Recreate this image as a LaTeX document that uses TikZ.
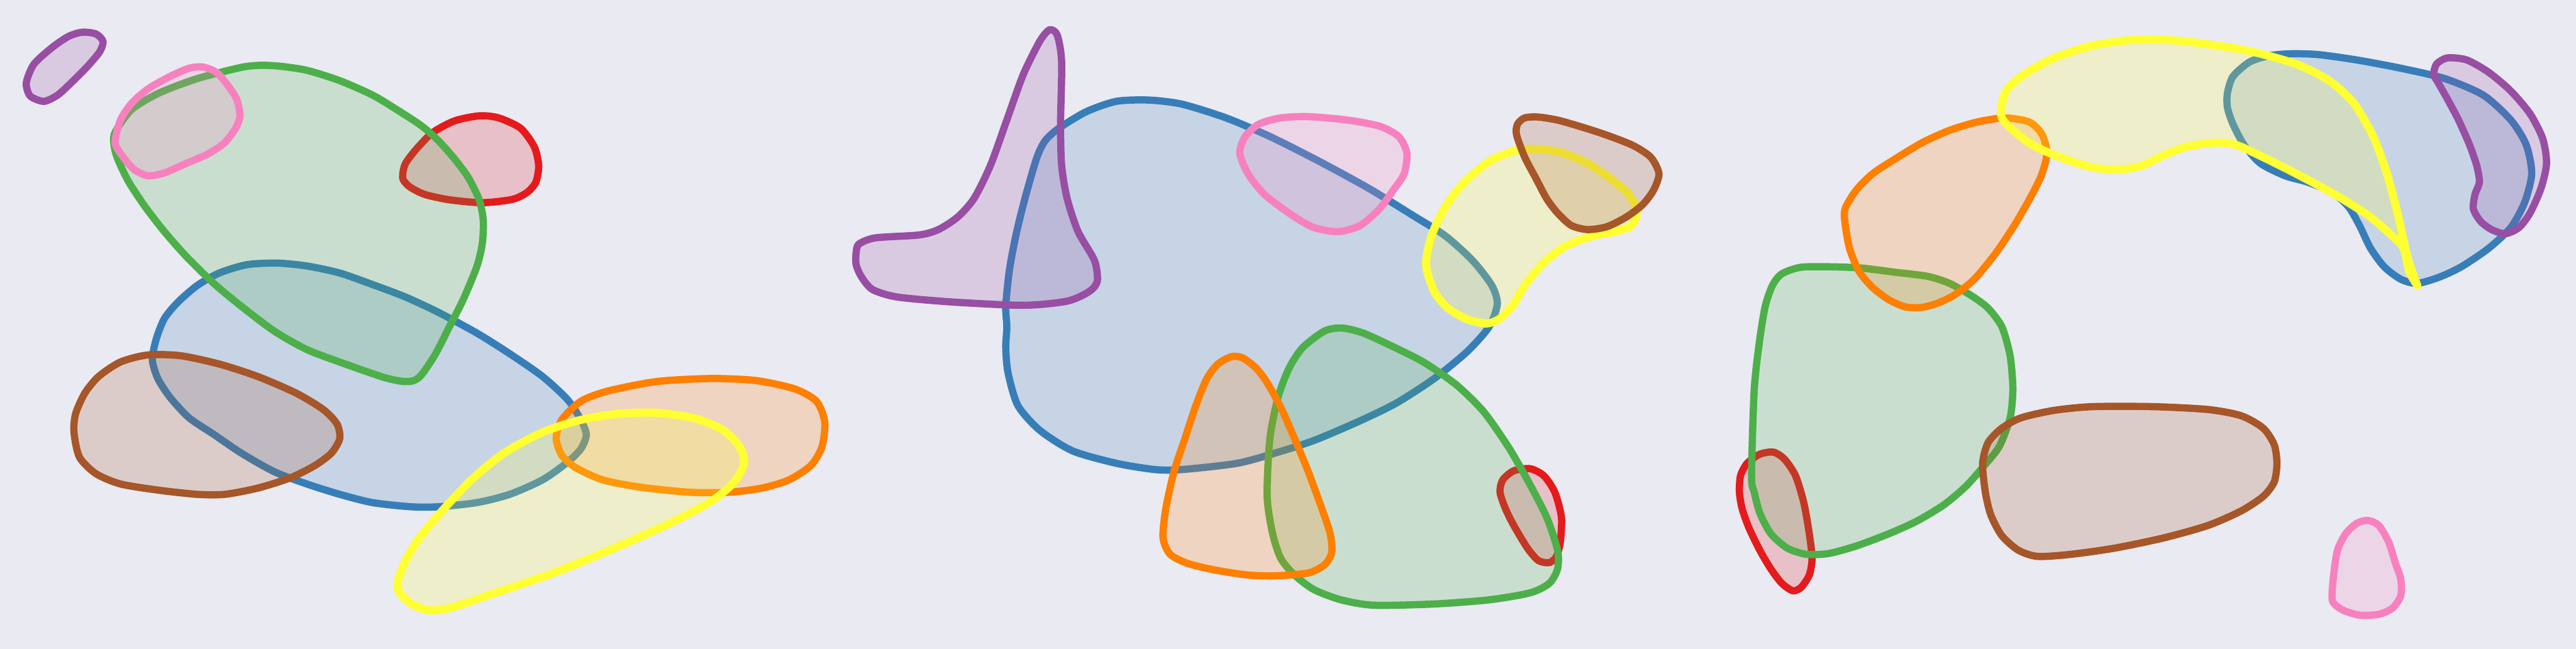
\documentclass[tikz,border=0pt]{standalone}
\definecolor{bg}{HTML}{EAEAF2}
\definecolor{sred}{HTML}{E41A1C}
\definecolor{sblue}{HTML}{377EB8}
\definecolor{sgreen}{HTML}{4DAF4A}
\definecolor{spurple}{HTML}{984EA3}
\definecolor{sorange}{HTML}{FF7F00}
\definecolor{syellow}{HTML}{FFFF33}
\definecolor{sbrown}{HTML}{A65628}
\definecolor{spink}{HTML}{F781BF}
\tikzset{blob/.style={draw=#1, fill=#1, fill opacity=0.2, draw opacity=1, line width=1.25pt, line join=round},
  yblob/.style={blob=syellow, line width=1.4pt}}
\begin{document}
\begin{tikzpicture}[x=0.01cm,y=-0.01cm]
\fill[bg] (0,0) rectangle (1568,395);
\useasboundingbox (0,0) rectangle (1568,395);
% ---------------- panel 1
\begin{scope}[xscale=0.33356, yscale=0.25183]
\draw[blob=sblue] plot[smooth cycle, tension=0.45] coordinates {(278,870) (285,820) (300,770) (325,730) (360,690) (400,660) (450,640) (505,636) (560,643) (620,660) (680,688) (740,718) (800,755) (870,805) (930,855) (990,910) (1035,965) (1058,1010) (1070,1050) (1060,1085) (1035,1118) (990,1160) (930,1195) (870,1215) (800,1225) (750,1225) (680,1215) (620,1195) (560,1170) (500,1140) (440,1095) (390,1050) (345,1010) (310,960) (288,915)};
\draw[blob=sred] plot[smooth cycle, tension=0.45] coordinates {(735,420) (740,395) (760,360) (790,320) (830,292) (875,280) (910,285) (950,310) (975,355) (983,400) (978,440) (962,465) (935,482) (880,490) (820,483) (775,470) (748,452) (736,435)};
\draw[blob=sgreen] plot[smooth cycle, tension=0.45] coordinates {(208,350) (210,320) (240,265) (290,225) (360,190) (440,163) (475,158) (510,160) (560,170) (620,195) (680,230) (730,270) (770,305) (800,340) (830,385) (855,430) (875,485) (882,535) (880,590) (870,645) (845,725) (820,790) (795,855) (770,905) (755,920) (735,922) (700,912) (630,880) (560,845) (500,800) (440,740) (390,685) (340,620) (300,560) (265,500) (235,440) (215,385)};
\draw[blob=spink] plot[smooth cycle, tension=0.45] coordinates {(210,345) (220,290) (240,250) (270,215) (310,185) (345,165) (370,162) (395,175) (415,205) (432,240) (438,280) (430,310) (410,345) (380,372) (340,395) (300,418) (270,425) (245,410) (225,380)};
\draw[blob=sbrown] plot[smooth cycle, tension=0.45] coordinates {(135,1045) (138,1000) (155,950) (180,910) (220,875) (270,858) (330,860) (400,880) (470,910) (540,950) (590,990) (615,1025) (620,1060) (605,1095) (575,1125) (530,1155) (470,1180) (410,1195) (360,1195) (290,1185) (220,1170) (175,1145) (145,1105)};
\draw[blob=sorange] plot[smooth cycle, tension=0.45] coordinates {(1015,1060) (1025,1015) (1060,970) (1110,945) (1200,922) (1300,915) (1380,920) (1450,940) (1490,970) (1505,1020) (1500,1080) (1480,1125) (1440,1160) (1390,1180) (1330,1190) (1260,1190) (1170,1178) (1100,1160) (1050,1130) (1025,1100)};
\draw[yblob] plot[smooth cycle, tension=0.45] coordinates {(725,1420) (735,1370) (760,1310) (800,1245) (860,1160) (920,1095) (990,1045) (1060,1015) (1130,1000) (1200,998) (1270,1012) (1320,1040) (1350,1080) (1358,1120) (1340,1165) (1300,1210) (1230,1260) (1130,1320) (1010,1385) (900,1435) (820,1470) (780,1475) (745,1455)};
\draw[blob=spurple] plot[smooth cycle, tension=0.45] coordinates {(48,200) (62,155) (95,115) (125,88) (150,78) (175,82) (188,100) (182,125) (160,160) (130,200) (105,230) (80,245) (55,232)};
\end{scope}
% ---------------- panel 2
\begin{scope}[shift={(512.8,0)}]
\begin{scope}[xscale=0.33356, yscale=0.25183]
\draw[blob=sred] plot[smooth cycle, tension=0.45] coordinates {(1200,1190) (1205,1160) (1225,1138) (1255,1133) (1280,1150) (1300,1190) (1312,1250) (1310,1310) (1303,1345) (1290,1360) (1270,1355) (1250,1325) (1225,1270) (1210,1230)};
\draw[blob=sblue] plot[smooth cycle, tension=0.45] coordinates {(300,790) (298,740) (305,650) (318,560) (335,470) (355,380) (370,340) (395,310) (445,270) (500,245) (560,242) (620,252) (700,285) (780,330) (870,390) (960,455) (1040,520) (1100,570) (1150,630) (1185,690) (1195,735) (1180,790) (1140,850) (1080,915) (1010,975) (940,1020) (860,1065) (790,1095) (720,1120) (620,1135) (570,1135) (500,1120) (420,1090) (360,1040) (320,980) (302,900) (298,840)};
\draw[blob=sgreen] plot[smooth cycle, tension=0.45] coordinates {(775,1200) (780,1060) (795,960) (815,890) (840,840) (880,800) (912,793) (950,805) (1000,835) (1060,875) (1120,930) (1170,995) (1215,1080) (1250,1160) (1285,1250) (1305,1330) (1305,1375) (1290,1410) (1255,1433) (1180,1450) (1080,1460) (970,1463) (910,1450) (860,1425) (825,1390) (800,1350) (785,1290)};
\draw[blob=sorange] plot[smooth cycle, tension=0.45] coordinates {(585,1300) (590,1230) (605,1140) (625,1060) (645,980) (665,915) (685,880) (710,862) (730,865) (755,890) (775,925) (800,985) (825,1060) (850,1140) (875,1230) (890,1290) (893,1335) (880,1365) (850,1385) (790,1392) (740,1390) (680,1378) (630,1362) (598,1340)};
\draw[blob=spurple] plot[smooth cycle, tension=0.45] coordinates {(25,610) (30,590) (60,575) (140,568) (175,555) (210,525) (240,480) (270,400) (300,290) (330,180) (360,100) (378,72) (392,85) (400,150) (398,300) (400,400) (410,480) (430,560) (460,630) (465,680) (450,705) (410,728) (330,738) (200,730) (100,718) (55,700) (35,670) (25,640)};
\draw[blob=spink] plot[smooth cycle, tension=0.45] coordinates {(725,370) (735,330) (760,300) (800,285) (850,282) (920,290) (980,305) (1015,330) (1030,370) (1025,420) (1005,460) (980,505) (945,545) (905,560) (860,550) (820,520) (770,470) (740,420)};
\draw[yblob] plot[smooth cycle, tension=0.45] coordinates {(1065,640) (1075,570) (1100,500) (1135,440) (1180,390) (1225,365) (1260,360) (1310,368) (1360,395) (1400,430) (1435,470) (1450,510) (1440,545) (1410,560) (1370,570) (1320,595) (1280,635) (1245,690) (1225,735) (1200,770) (1175,782) (1140,772) (1105,745) (1080,705)};
\draw[blob=sbrown] plot[smooth cycle, tension=0.45] coordinates {(1230,325) (1232,300) (1245,285) (1270,283) (1310,292) (1380,320) (1440,350) (1475,380) (1490,420) (1480,460) (1460,495) (1430,525) (1395,548) (1360,555) (1330,545) (1305,515) (1285,480) (1265,430) (1245,380)};
\end{scope}
\end{scope}
% ---------------- panel 3
\begin{scope}[shift={(1042.7,0)}]
\begin{scope}[xscale=0.33490, yscale=0.25183]
\draw[blob=sred] plot[smooth cycle, tension=0.45] coordinates {(48,1190) (50,1150) (62,1120) (85,1098) (110,1093) (130,1110) (150,1150) (165,1215) (175,1290) (180,1350) (175,1390) (160,1420) (145,1428) (125,1410) (105,1375) (85,1330) (65,1275) (53,1230)};
\draw[blob=sgreen] plot[smooth cycle, tension=0.45] coordinates {(70,1150) (75,940) (85,820) (95,740) (108,690) (125,662) (160,646) (215,645) (270,648) (330,658) (390,668) (430,685) (470,715) (500,745) (525,790) (540,860) (545,940) (540,1010) (520,1080) (490,1130) (460,1175) (420,1220) (370,1260) (320,1290) (260,1320) (210,1338) (170,1340) (135,1325) (105,1290) (85,1240) (75,1190)};
\draw[blob=sbrown] plot[smooth cycle, tension=0.45] coordinates {(490,1120) (500,1070) (525,1035) (560,1010) (620,992) (690,983) (800,983) (900,990) (960,1005) (1000,1035) (1020,1075) (1025,1120) (1020,1165) (1000,1200) (960,1235) (900,1270) (820,1300) (730,1325) (650,1340) (590,1345) (555,1330) (525,1295) (505,1245) (495,1190)};
\draw[blob=sorange] plot[smooth cycle, tension=0.45] coordinates {(240,540) (240,505) (260,460) (290,420) (330,385) (380,345) (430,315) (480,295) (530,285) (575,295) (598,325) (607,370) (598,420) (580,470) (550,540) (515,610) (475,675) (440,712) (410,732) (380,743) (350,742) (320,725) (290,695) (265,655) (248,600)};
\draw[blob=sblue] plot[smooth cycle, tension=0.45] coordinates {(935,260) (935,225) (945,185) (975,150) (1010,135) (1050,130) (1100,132) (1170,145) (1250,165) (1330,190) (1400,230) (1450,290) (1478,350) (1488,420) (1475,490) (1450,550) (1410,600) (1360,645) (1320,670) (1280,685) (1250,675) (1220,645) (1195,600) (1175,545) (1155,500) (1125,465) (1080,440) (1040,425) (995,395) (965,350) (945,300)};
\draw[blob=spurple] plot[smooth cycle, tension=0.45] coordinates {(1310,180) (1315,155) (1335,140) (1370,145) (1410,175) (1450,220) (1485,275) (1508,335) (1515,395) (1505,455) (1485,515) (1465,550) (1440,565) (1415,555) (1395,535) (1382,505) (1385,470) (1393,440) (1388,400) (1375,350) (1355,290) (1335,240) (1318,200)};
\draw[yblob] plot[smooth, tension=0.45] coordinates {(1280,690) (1262,620) (1245,520) (1225,420) (1200,330) (1165,250) (1120,195) (1060,155) (980,125) (900,107) (830,97) (760,97) (690,110) (620,140) (565,180) (535,215) (525,250) (525,285) (545,315) (580,350) (630,380) (690,405) (740,410) (780,400) (820,375) (860,355) (910,345) (950,350) (1000,380) (1060,420) (1130,470) (1190,520) (1230,565) (1255,600) (1265,655) (1280,690)} -- cycle;
\draw[blob=spink] plot[smooth cycle, tension=0.45] coordinates {(1125,1440) (1128,1390) (1135,1330) (1150,1290) (1170,1265) (1190,1258) (1210,1270) (1228,1310) (1240,1360) (1250,1400) (1250,1440) (1235,1470) (1210,1485) (1175,1487) (1145,1475) (1128,1458)};
\end{scope}
\end{scope}
\end{tikzpicture}
\end{document}
